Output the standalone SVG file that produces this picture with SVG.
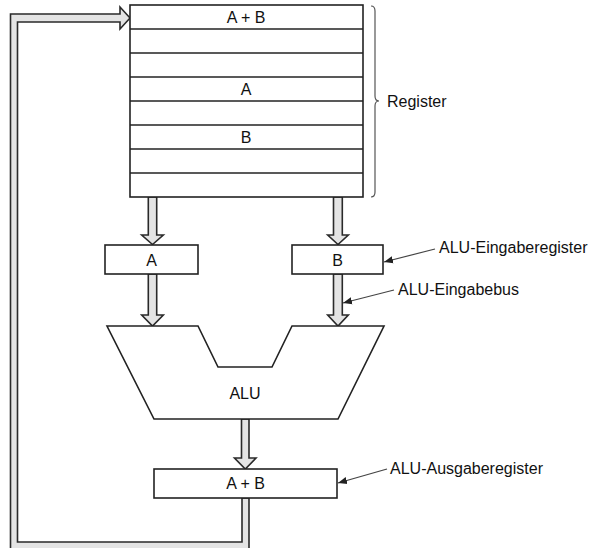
<svg xmlns="http://www.w3.org/2000/svg" width="596" height="548" viewBox="0 0 596 548">
<defs>
<style>
.box{fill:#fff;stroke:#222;stroke-width:1.6}
.bus{fill:#e4e4e4;stroke:#2a2a2a;stroke-width:1.6;stroke-linejoin:miter}
.lbl{font-family:"Liberation Sans",Arial,sans-serif;font-size:16px;fill:#111}
.ctr{text-anchor:middle}
.ptr{stroke:#444;stroke-width:1.2;fill:none}
.brace{fill:none;stroke:#555;stroke-width:1.2}
</style>
<marker id="ah" viewBox="0 0 10 10" refX="10" refY="5" markerWidth="9" markerHeight="9" markerUnits="userSpaceOnUse" orient="auto">
<path d="M0,1 L10,5 L0,9 Z" fill="#222"/>
</marker>
</defs>
<rect width="596" height="548" fill="#fff"/>

<g id="connectors">
<path id="feedback" class="bus" d="M249,498 L249,556 L10.5,556 L10.5,14 L120,14 L120,7 L130,18 L120,29 L120,22 L17.5,22 L17.5,542 L242,542 L242,498 Z"/>
<path id="regA" class="bus" d="M148.3,197 L148.3,235 L141.7,235 L152.5,244.5 L163.3,235 L156.7,235 L156.7,197 Z"/>
<path id="regB" class="bus" d="M333.5,197 L333.5,235 L327.7,235 L338,244.5 L348.3,235 L342.3,235 L342.3,197 Z"/>
<path id="aAlu" class="bus" d="M148.3,274 L148.3,315 L141.7,315 L152.5,326 L163.3,315 L156.7,315 L156.7,274 Z"/>
<path id="bAlu" class="bus" d="M333.5,274 L333.5,315 L327.7,315 L338,326 L348.3,315 L342.3,315 L342.3,274 Z"/>
<path id="aluOut" class="bus" d="M241.5,419 L241.5,458 L234.5,458 L245.3,469 L256,458 L249,458 L249,419 Z"/>
<line class="ptr" x1="435" y1="249" x2="384" y2="262" marker-end="url(#ah)"/>
<line class="ptr" x1="394" y1="290" x2="343" y2="303" marker-end="url(#ah)"/>
<line class="ptr" x1="387" y1="469" x2="338" y2="483" marker-end="url(#ah)"/>
</g>

<g id="registers">
<rect class="box" x="130" y="5" width="233" height="192"/>
<g stroke="#222" stroke-width="1.6">
<line x1="130" y1="29" x2="363" y2="29"/>
<line x1="130" y1="53" x2="363" y2="53"/>
<line x1="130" y1="77" x2="363" y2="77"/>
<line x1="130" y1="101" x2="363" y2="101"/>
<line x1="130" y1="125" x2="363" y2="125"/>
<line x1="130" y1="149" x2="363" y2="149"/>
<line x1="130" y1="173" x2="363" y2="173"/>
</g>
<text class="lbl ctr" x="246" y="23">A + B</text>
<text class="lbl ctr" x="246" y="95">A</text>
<text class="lbl ctr" x="246" y="143">B</text>
</g>

<g id="register-brace">
<path class="brace" d="M371,6 Q375,6 375,11 L375,96 Q375,101 379,101 Q375,101 375,106 L375,192 Q375,197 371,197"/>
<text class="lbl" x="387" y="107">Register</text>
</g>

<g id="inputA">
<rect class="box" x="105" y="245" width="93" height="29"/>
<text class="lbl ctr" x="151.5" y="266">A</text>
</g>

<g id="inputB">
<rect class="box" x="292" y="245" width="91" height="29"/>
<text class="lbl ctr" x="337.5" y="266">B</text>
</g>

<g id="alu">
<path class="box" d="M107,326 L198,326 L218,367 L272,367 L292,326 L384,326 L338,419 L154,419 Z"/>
<text class="lbl ctr" x="245" y="399">ALU</text>
</g>

<g id="output">
<rect class="box" x="154" y="469" width="183" height="29"/>
<text class="lbl ctr" x="245.5" y="489">A + B</text>
</g>

<g id="labels">
<text class="lbl" x="439" y="253">ALU-Eingaberegister</text>
<text class="lbl" x="398" y="295">ALU-Eingabebus</text>
<text class="lbl" x="390" y="474">ALU-Ausgaberegister</text>
</g>
</svg>
